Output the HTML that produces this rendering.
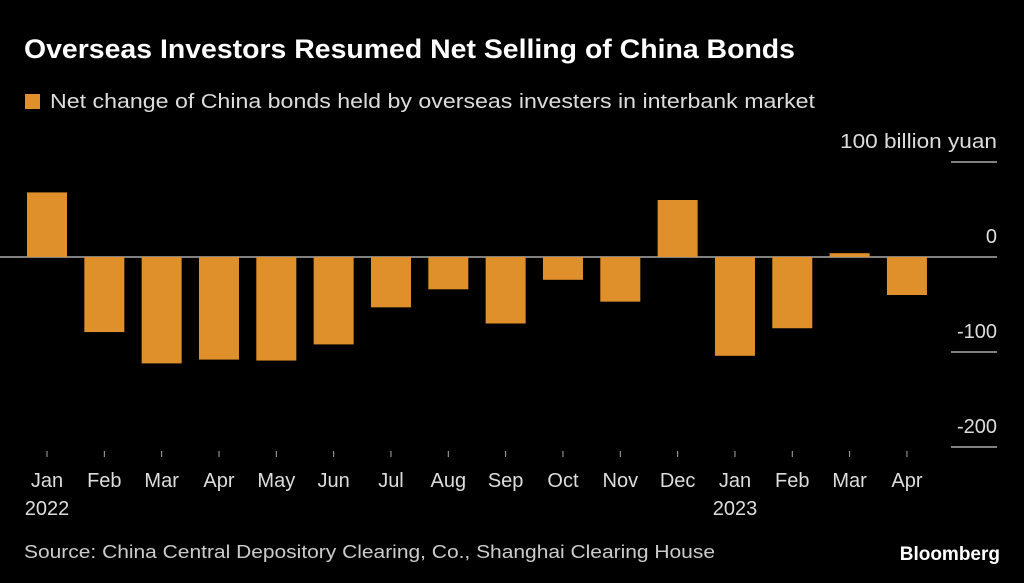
<!DOCTYPE html>
<html><head><meta charset="utf-8"><style>
body{margin:0;background:#000;width:1024px;height:583px;overflow:hidden;font-family:"Liberation Sans",sans-serif;color:#fff}
</style></head><body>
<svg width="1024" height="583" style="position:absolute;left:0;top:0">
<text x="24" y="58" font-size="27" font-weight="bold" fill="#fff" textLength="771" lengthAdjust="spacingAndGlyphs">Overseas Investors Resumed Net Selling of China Bonds</text>
<rect x="25" y="94" width="15" height="15" fill="#e0902a"/>
<text x="50" y="108" font-size="20" fill="#ddd" textLength="765" lengthAdjust="spacingAndGlyphs">Net change of China bonds held by overseas investers in interbank market</text>
<g id="yaxis"></g>
<g id="bars"></g>
<g id="xaxis"></g>
<text x="24" y="558" font-size="18" fill="#ccc" textLength="691" lengthAdjust="spacingAndGlyphs">Source: China Central Depository Clearing, Co., Shanghai Clearing House</text>
<text x="1000" y="560" font-size="19" font-weight="bold" fill="#fff" text-anchor="end">Bloomberg</text>
</svg>
<script>
const months=["Jan","Feb","Mar","Apr","May","Jun","Jul","Aug","Sep","Oct","Nov","Dec","Jan","Feb","Mar","Apr"];
const years=["2022","","","","","","","","","","","","2023","","",""];
const values=[68,-79,-112,-108,-109,-92,-53,-34,-70,-24,-47,60,-104,-75,4,-40];
const yTicks=[100,0,-100,-200];
const yTickLabels=["100 billion yuan","0","-100","-200"];
const NS="http://www.w3.org/2000/svg";
const y=v=>257-v*0.95;
const x=i=>47+i*57.33;
const bw=40;
const ya=document.getElementById('yaxis'),ba=document.getElementById('bars'),xa=document.getElementById('xaxis');
function mk(t,a,p){const e=document.createElementNS(NS,t);for(const k in a)e.setAttribute(k,a[k]);p.appendChild(e);return e;}
yTicks.forEach((v,i)=>{
  const l=mk('line',{x1:v===0?0:951,x2:997,y1:y(v),y2:y(v),stroke:'#ccc','stroke-width':1.3},ya);
  
  
  const attrs={x:997,y:y(v)-14,'font-size':20,fill:'#ddd','text-anchor':'end'};
  if(i===0){attrs.textLength=157;attrs.lengthAdjust='spacingAndGlyphs';}
  const t=mk('text',attrs,ya);
  t.textContent=yTickLabels[i];
  
  
});
values.forEach((v,i)=>{
  const top=Math.min(y(v),y(0)),h=Math.abs(y(v)-y(0));
  const r=mk('rect',{x:x(i)-bw/2,y:top,width:bw,height:h,fill:'#e0902a'},ba);
  
  
  const tk=mk('line',{x1:x(i),x2:x(i),y1:451,y2:457,stroke:'#aaa','stroke-width':1},xa);
  
  
  const t=mk('text',{x:x(i),y:487,'font-size':20,fill:'#ddd','text-anchor':'middle'},xa);
  t.textContent=months[i];
  
  
  if(years[i]){const yt=mk('text',{x:x(i),y:515,'font-size':20,fill:'#ddd','text-anchor':'middle'},xa);
  yt.textContent=years[i];
  
  }
});
</script>
</body></html>
